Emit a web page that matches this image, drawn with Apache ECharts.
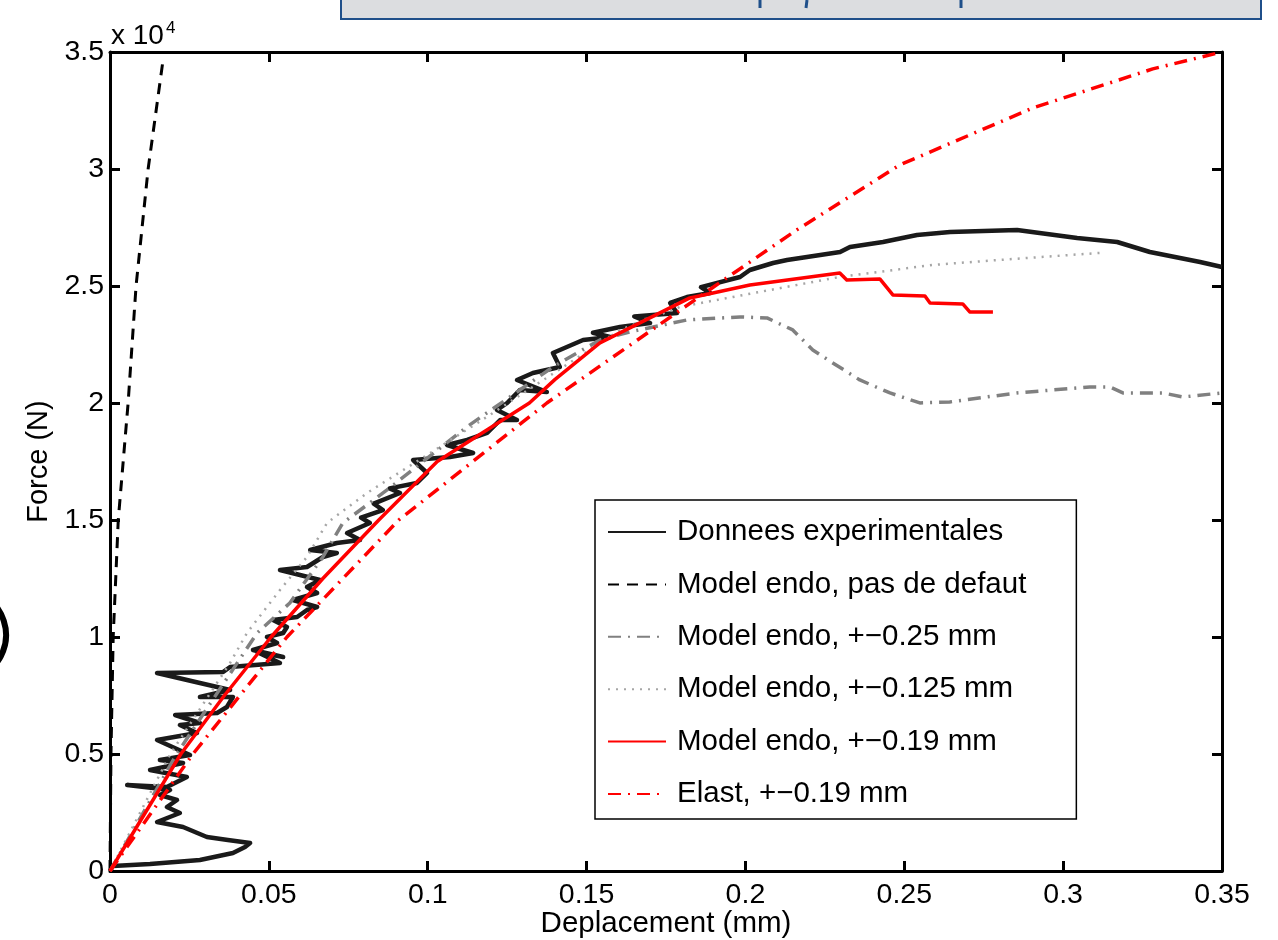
<!DOCTYPE html>
<html>
<head>
<meta charset="utf-8">
<script src="https://cdn.jsdelivr.net/npm/echarts@6/dist/echarts.min.js"></script>
<style>html,body{margin:0;padding:0;background:#fff;}#c{width:1278px;height:940px;}</style>
</head>
<body>
<div id="c"></div>
<script>
// ---- data (Deplacement mm, Force N) ----
var seriesNames = [
  'Donnees experimentales',
  'Model endo, pas de defaut',
  'Model endo, +\u22120.25 mm',
  'Model endo, +\u22120.125 mm',
  'Model endo, +\u22120.19 mm',
  'Elast, +\u22120.19 mm'
];
var xTicks = [0, 0.05, 0.1, 0.15, 0.2, 0.25, 0.3, 0.35];
var yTicks = [0, 5000, 10000, 15000, 20000, 25000, 30000, 35000];

var experimental = [
  [0,0],[0.0009,214],[0.0126,299],[0.0283,470],[0.0387,769],[0.0425,1026],[0.0441,1197],
  [0.0371,1325],[0.0305,1453],[0.0230,1880],[0.0148,2094],[0.0220,2479],[0.0179,2735],
  [0.0211,3034],[0.0157,3248],[0.0189,3462],[0.0054,3675],[0.0179,3590],[0.0242,4017],
  [0.0126,4316],[0.0230,4615],[0.0157,4744],[0.0252,4957],[0.0148,5598],[0.0274,5897],
  [0.0220,6239],[0.0283,6325],[0.0205,6667],[0.0337,6752],[0.0368,7009],[0.0387,7436],
  [0.0283,7436],[0.0378,7735],[0.0283,8034],[0.0148,8462],[0.0356,8504],[0.0378,8718],
  [0.0535,8889],[0.0463,9359],[0.0545,9145],[0.0450,9444],[0.0526,9744],[0.0494,10000],
  [0.0545,10171],[0.0557,10427],[0.0513,10726],[0.0589,10855],[0.0620,11154],[0.0652,11282],
  [0.0576,11581],[0.0652,11880],[0.0620,12137],[0.0661,12436],[0.0535,12863],[0.0620,12991],
  [0.0670,13419],[0.0714,13590],[0.0630,13718],[0.0714,14017],[0.0787,14145],[0.0746,14444],
  [0.0818,14872],[0.0790,15100],[0.0859,15427],[0.0830,15700],[0.0913,16154],[0.0880,16350],
  [0.0966,16581],[0.0998,17009],[0.0954,17564],[0.1070,17692],[0.1143,17863],[0.1061,18205],
  [0.1124,18419],[0.1187,18718],[0.1228,19274],[0.1281,19274],[0.1218,19701],[0.1250,20000],
  [0.1290,20556],[0.1375,20470],[0.1281,20983],[0.1331,21282],[0.1416,21538],[0.1394,22137],
  [0.1489,22692],[0.1574,22821],[0.1520,23000],[0.1605,23248],[0.1700,23419],[0.1650,23700],
  [0.1785,23846],[0.1763,24274],[0.1816,24530],[0.1889,24701],[0.1860,24950],[0.1983,25385],
  [0.2014,25684],[0.2087,25983],[0.2131,26111],[0.2298,26453],[0.2329,26667],[0.2433,26880],
  [0.2540,27179],[0.2644,27308],[0.2855,27393],[0.3044,27051],[0.3170,26880],[0.3273,26453],
  [0.3431,26026],[0.3500,25812]
];
var endoNoDefect = [
  [0,0],[0.0003,5000],[0.0010,10000],[0.0026,15000],[0.0057,20000],[0.0082,25000],
  [0.0120,30000],[0.0167,34660]
];
var endo025 = [
  [0,0],[0.0210,5000],[0.0463,10172],[0.0566,11454],[0.0670,13420],[0.0733,14874],
  [0.0872,16284],[0.1123,18977],[0.1394,21541],[0.1542,22695],[0.1636,23037],[0.1816,23550],
  [0.1983,23678],[0.2068,23635],[0.2149,23122],[0.2212,22267],[0.2275,21712],[0.2360,20985],
  [0.2455,20430],[0.2549,20002],[0.2643,20045],[0.2854,20430],[0.3084,20686],[0.3147,20686],
  [0.3188,20430],[0.3314,20430],[0.3377,20259],[0.3500,20430]
];
var endo0125 = [
  [0,0],[0.0190,5000],[0.0378,8890],[0.0431,10172],[0.0535,12010],[0.0620,13420],
  [0.0683,14874],[0.0809,16156],[0.1038,18122],[0.1186,19404],[0.1605,23122],[0.1794,24106],
  [0.1961,24533],[0.2297,25388],[0.2590,25901],[0.2801,26115],[0.3116,26414]
];
var endo019 = [
  [0,0],[0.0223,5000],[0.0360,7500],[0.0507,10000],[0.0670,12500],[0.0846,15000],
  [0.1030,17500],[0.1320,20000],[0.1400,21000],[0.1542,22567],[0.1825,24490],[0.2014,25046],
  [0.2297,25559],[0.2319,25260],[0.2423,25302],[0.2464,24618],[0.2565,24576],[0.2581,24277],
  [0.2684,24234],[0.2706,23892],[0.2779,23892]
];
var elast019 = [
  [0,0],[0.0261,5000],[0.0557,10000],[0.0909,15000],[0.1375,20000],[0.1904,25000],
  [0.2162,27400],[0.2486,30174],[0.2905,32611],[0.3282,34277],[0.3500,35000]
];

var FONT = '"Liberation Sans", Arial, Helvetica, sans-serif';
var chart = echarts.init(document.getElementById('c'), null, {renderer: 'canvas'});

function mkLine(name, data, color, width, type) {
  return {
    name: name, type: 'line', data: data, symbol: 'none', showSymbol: false,
    smooth: false, clip: true, animation: false,
    lineStyle: {color: color, width: width, type: type, cap: 'butt', join: 'round'},
    itemStyle: {color: color}
  };
}

function axisBase(extra) {
  var o = {
    type: 'value', splitLine: {show: false},
    axisLine: {show: true, onZero: false, lineStyle: {color: '#000', width: 3}},
    axisTick: {show: true, inside: true, length: 10, lineStyle: {color: '#000', width: 3}}
  };
  for (var k in extra) o[k] = extra[k];
  return o;
}

var option = {
  backgroundColor: '#fff',
  animation: false,
  grid: {left: 110, right: 56, top: 52, bottom: 69, containLabel: false, outerBoundsMode: 'none'},
  xAxis: [
    axisBase({
      min: 0, max: 0.35, interval: 0.05, position: 'bottom',
      name: 'Deplacement (mm)', nameLocation: 'middle', nameGap: 38, nameMoveOverlap: false,
      nameTextStyle: {fontFamily: FONT, fontSize: 29.5, color: '#000'},
      axisLabel: {fontFamily: FONT, fontSize: 28.5, color: '#000', margin: 10,
        formatter: function (v) { return String(+v.toFixed(2)); }}
    }),
    axisBase({
      min: 0, max: 0.35, interval: 0.05, position: 'top', axisLabel: {show: false}
    })
  ],
  yAxis: [
    axisBase({
      min: 0, max: 35000, interval: 5000, position: 'left',
      name: 'Force (N)', nameLocation: 'middle', nameGap: 56, nameRotate: 90,
      nameTextStyle: {fontFamily: FONT, fontSize: 29, color: '#000'},
      axisLabel: {fontFamily: FONT, fontSize: 28.5, color: '#000', margin: 6,
        formatter: function (v) { return String(+(v / 10000).toFixed(2)); }}
    }),
    axisBase({
      min: 0, max: 35000, interval: 5000, position: 'right', axisLabel: {show: false}
    })
  ],
  legend: {
    show: true, orient: 'vertical', left: 595, top: 500,
    backgroundColor: '#fff', borderColor: '#000', borderWidth: 1.5, borderRadius: 0,
    padding: [17, 50, 10, 12], itemWidth: 58, itemHeight: 16, itemGap: 22.4,
    itemStyle: {opacity: 0, color: 'rgba(0,0,0,0)', borderWidth: 0},
    textStyle: {fontFamily: FONT, fontSize: 29.5, color: '#000', lineHeight: 30, padding: [0, 0, 0, 6]},
    data: seriesNames, selectedMode: false
  },
  graphic: [
    {type: 'rect', shape: {x: 341, y: -10, width: 920, height: 29},
      style: {fill: '#dcdde0', stroke: '#1f4f8a', lineWidth: 2}, silent: true, z: 10},
    {type: 'line', shape: {x1: 760, y1: 0, x2: 760, y2: 8}, style: {stroke: '#1f4f8a', lineWidth: 3}, z: 11},
    {type: 'line', shape: {x1: 807, y1: 0, x2: 806, y2: 8}, style: {stroke: '#1f4f8a', lineWidth: 3}, z: 11},
    {type: 'line', shape: {x1: 961, y1: 0, x2: 961, y2: 8}, style: {stroke: '#1f4f8a', lineWidth: 3}, z: 11},
    {type: 'arc', shape: {cx: -40, cy: 635, r: 46, startAngle: -1.1, endAngle: 1.1},
      style: {stroke: '#000', lineWidth: 6, fill: null}, z: 11},
    {type: 'text', left: 111, top: 20,
      style: {text: 'x 10{s|4}', font: '28px ' + FONT, fill: '#000',
        rich: {s: {fontSize: 17, fontFamily: FONT, verticalAlign: 'top', padding: [0, 0, 16, 2]}}}}
  ],
  series: [
    mkLine(seriesNames[0], experimental, '#1a1a1a', 4.5, 'solid'),
    mkLine(seriesNames[1], endoNoDefect, '#000000', 3, [11, 8]),
    mkLine(seriesNames[2], endo025, '#808080', 3.5, [13, 7, 2, 7]),
    mkLine(seriesNames[3], endo0125, '#a6a6a6', 2.5, [2, 6]),
    mkLine(seriesNames[4], endo019, '#ff0000', 3.5, 'solid'),
    mkLine(seriesNames[5], elast019, '#ff0000', 3.5, [13, 7, 2, 7])
  ]
};
chart.setOption(option);
</script>
</body>
</html>
